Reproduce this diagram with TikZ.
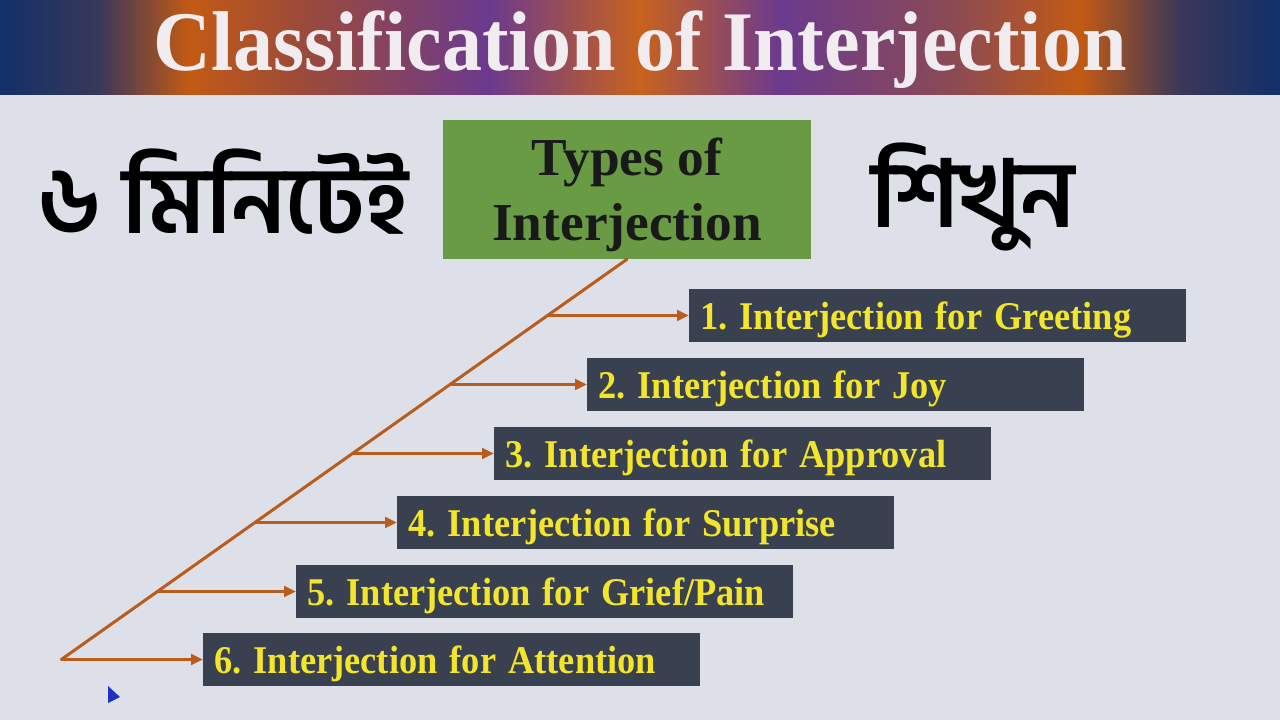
\documentclass[tikz,border=0pt]{standalone}
\usepackage{fontspec}
\setmainfont{Liberation Serif}
\newfontfamily\bn[Script=Bengali]{Hind Siliguri}
\usetikzlibrary{arrows.meta}
\frenchspacing
\definecolor{bgc}{HTML}{DDE0E8}
\definecolor{navyc}{HTML}{12306A}
\definecolor{tdark}{HTML}{3A3858}
\definecolor{torange}{HTML}{C25A14}
\definecolor{tbrown}{HTML}{9A4A3C}
\definecolor{tpurple}{HTML}{6B3A8E}
\definecolor{torange2}{HTML}{C8621E}
\definecolor{tmauve}{HTML}{8A4A55}
\definecolor{titletext}{HTML}{F0ECF0}
\definecolor{greenc}{HTML}{699A44}
\definecolor{boxc}{HTML}{394150}
\definecolor{yellowc}{HTML}{F2E52A}
\definecolor{linec}{HTML}{BA5C1C}
\definecolor{cursorc}{HTML}{2030C0}
\pgfdeclarehorizontalshading{titlebar}{100bp}{color(0bp)=(navyc); color(25bp)=(navyc); color(28.9bp)=(tdark); color(32.4bp)=(torange); color(37bp)=(tbrown); color(44.1bp)=(tpurple); color(50bp)=(torange2); color(55.5bp)=(tpurple); color(62.1bp)=(tmauve); color(67.2bp)=(torange); color(71.1bp)=(tdark); color(75bp)=(navyc); color(100bp)=(navyc)}
\newcommand{\talltext}[1]{\scalebox{1}[1.08]{#1}}
\tikzset{
  itembox/.style={fill=boxc, text=yellowc, anchor=west, minimum height=39.75pt,
    text width=356.25pt, inner xsep=8.25pt, inner ysep=0pt, align=left,
    text height=26pt, text depth=5.75pt,
    font=\fontsize{27.3pt}{30pt}\selectfont\bfseries},
  greenbox/.style={fill=greenc, minimum width=276pt, minimum height=104.25pt, inner sep=0pt},
  greentext/.style={text=black!90, font=\fontsize{40pt}{48.5pt}\selectfont\bfseries, align=center, inner sep=0pt},
  conn/.style={draw=linec, line width=2.25pt},
  arr/.style={conn, -{Triangle[length=9pt,width=8pt]}},
  bengali/.style={font=\bn\bfseries\fontsize{70pt}{78pt}\selectfont, text=black, inner sep=0pt}
}
\begin{document}
\begin{tikzpicture}[x=0.75pt, y=-0.75pt]
\useasboundingbox (0,0) rectangle (1280,720);
\fill[bgc] (0,0) rectangle (1280,720);
\shade[shading=titlebar] (0,0) rectangle (1280,95);
\node[text=titletext, font=\fontsize{60pt}{66pt}\selectfont\bfseries, inner sep=0pt] (title) at (640,50) {\scalebox{1}[1.06]{Classification of Interjection}};

\node[greenbox] (g) at (627,189.5) {};
\node[greentext] (gt) at (627,195) {Types of\\Interjection};
\node[bengali] (bl) at (223,192) {৬ মিনিটেই};
\node[bengali] (br) at (973,197) {শিখুন};

\node[itembox] (t1) at (689,315.5) {\talltext{1. Interjection for Greeting}};
\node[itembox] (t2) at (587,384.5) {\talltext{2. Interjection for Joy}};
\node[itembox] (t3) at (494,453.5) {\talltext{3. Interjection for Approval}};
\node[itembox] (t4) at (397,522.5) {\talltext{4. Interjection for Surprise}};
\node[itembox] (t5) at (296,591.5) {\talltext{5. Interjection for Grief/Pain}};
\node[itembox] (t6) at (203,659.5) {\talltext{6. Interjection for Attention}};

\coordinate (d1) at (547.2,315.5);
\coordinate (d2) at (449.7,384.5);
\coordinate (d3) at (352.3,453.5);
\coordinate (d4) at (254.8,522.5);
\coordinate (d5) at (157.3,591.5);
\coordinate (d6) at (61.3,659.5);

\draw[conn, line cap=round] (g.south) -- (d6);
\draw[arr] (d1) -- (t1.west);
\draw[arr] (d2) -- (t2.west);
\draw[arr] (d3) -- (t3.west);
\draw[arr] (d4) -- (t4.west);
\draw[arr] (d5) -- (t5.west);
\draw[arr] (d6) -- (t6.west);

\fill[cursorc] (108,686) -- (108,703) -- (120,697) -- cycle;
\end{tikzpicture}
\end{document}
